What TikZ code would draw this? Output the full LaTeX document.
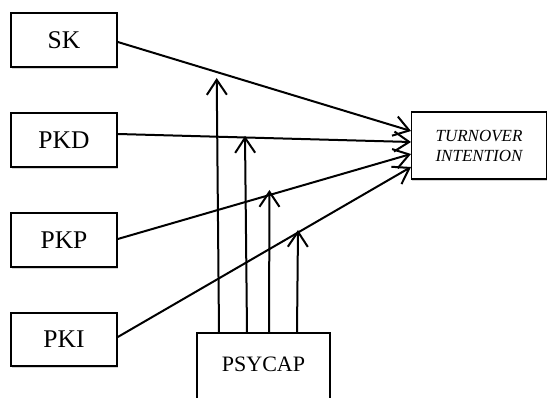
\documentclass[tikz,border=0pt]{standalone}
\usepackage{fontspec}
\setmainfont{Liberation Serif}
\usetikzlibrary{arrows.meta,shadows}
\begin{document}
\begin{tikzpicture}[x=1pt,y=-1pt,
  box/.style={draw=black,line width=1.6pt,fill=white,inner sep=0pt,
    drop shadow={shadow xshift=0.8pt,shadow yshift=-2pt,opacity=0.35,fill=black!50}},
  bigtxt/.style={font=\fontsize{25.5}{30}\selectfont},
  conn/.style={line width=2pt,-{Straight Barb[length=15pt,width=20pt,line width=2pt]}}]
\useasboundingbox (0,0) rectangle (547,398);
\begin{scope}
\clip (0,0) rectangle (547,398);
\node[box,bigtxt,minimum width=106pt,minimum height=54pt] (sk) at (64,40) {SK};
\node[box,bigtxt,minimum width=106pt,minimum height=54pt] (pkd) at (64,140) {PKD};
\node[box,bigtxt,minimum width=106pt,minimum height=54pt] (pkp) at (64,240) {PKP};
\node[box,bigtxt,minimum width=106pt,minimum height=53pt] (pki) at (64,339.5) {PKI};
\node[box,minimum width=135pt,minimum height=67pt,font=\fontsize{17}{20}\selectfont\itshape,align=left] (ti) at (479,145.5) {TURNOVER\\INTENTION};
\node[box,minimum width=133pt,minimum height=100pt,anchor=north] (psy) at (263.5,332) {};
\node[font=\fontsize{22}{25}\selectfont,anchor=base] (psyt) at (263.5,372) {PSYCAP};
\end{scope}
% endpoints on the outcome box
\coordinate (e1) at (411,131);
\coordinate (e2) at (411,142);
\coordinate (e3) at (411,154);
\coordinate (e4) at (411,167);
\draw[conn] (sk.east |- 117,42) -- (e1);
\draw[conn] (pkd.east |- 117,134) -- (e2);
\draw[conn] (pkp.east |- 117,239) -- (e3);
\draw[conn] (pki.east |- 117,337) -- (e4);
% moderator arrows
\coordinate (b1) at (219,332);
\coordinate (b2) at (247,332);
\coordinate (b3) at (269,332);
\coordinate (b4) at (297,332);
\coordinate (t1) at (216.7,78);
\coordinate (t2) at (245,136);
\coordinate (t3) at (269.5,190);
\coordinate (t4) at (298,230);
\draw[conn] (b1) -- (t1);
\draw[conn] (b2) -- (t2);
\draw[conn] (b3) -- (t3);
\draw[conn] (b4) -- (t4);
\end{tikzpicture}
\end{document}
